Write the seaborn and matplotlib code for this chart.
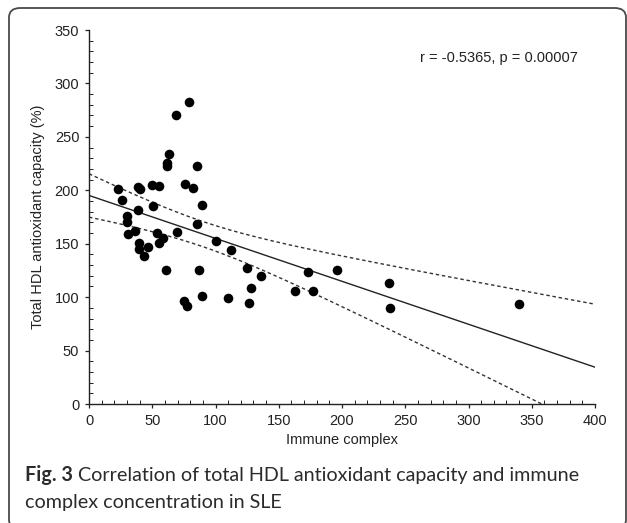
import numpy as np
import pandas as pd
import matplotlib
matplotlib.use("Agg")
import matplotlib.pyplot as plt
import seaborn as sns
from matplotlib.patches import FancyBboxPatch
from matplotlib.ticker import MultipleLocator

# ---- data ----
immune_complex = [22.7, 26.1, 30.3, 30.0, 30.6, 36.4, 38.5, 40.6, 38.7, 39.8,
                  39.5, 43.5, 46.9, 50.0, 55.0, 50.3, 53.5, 55.3, 58.3, 60.9,
                  61.4, 61.6, 63.5, 68.5, 79.0, 75.9, 82.5, 85.1, 89.3, 85.6,
                  69.6, 100.4, 112.0, 124.6, 87.0, 75.4, 77.7, 89.3, 110.2, 128.0,
                  126.2, 136.0, 163.1, 173.1, 177.1, 196.3, 237.4, 238.2, 340.2]
hdl_capacity = [201.6, 190.7, 176.0, 170.0, 159.0, 162.0, 203.0, 201.0, 182.0, 150.4,
                144.8, 138.6, 147.0, 204.8, 204.0, 185.7, 160.0, 150.7, 155.0, 125.5,
                222.9, 226.0, 233.8, 270.0, 282.5, 205.7, 202.5, 222.5, 186.3, 168.3,
                161.0, 152.9, 144.2, 127.0, 125.5, 96.1, 91.8, 101.4, 99.0, 108.6,
                94.3, 119.9, 105.5, 123.9, 105.5, 125.5, 113.6, 89.6, 93.6]
annotation = "r = -0.5365, p = 0.00007"
x_label = "Immune complex"
y_label = "Total HDL antioxidant capacity (%)"
caption_bold = "Fig. 3"
caption_rest = " Correlation of total HDL antioxidant capacity and immune"
caption_line2 = "complex concentration in SLE"

df = pd.DataFrame({"x": immune_complex, "y": hdl_capacity})

sns.set_style("white")
plt.rcParams["font.family"] = ["Liberation Sans", "DejaVu Sans"]

fig = plt.figure(figsize=(6.27, 5.23), dpi=100)
W, H = 627, 523

# rounded outer frame (bottom edge runs off the image)
frame = FancyBboxPatch((9 / W, -6 / H), (626 - 9) / W, (515 + 6) / H,
                       boxstyle="round,pad=0,rounding_size=0.018",
                       transform=fig.transFigure, fill=False,
                       edgecolor="#4a4a4a", linewidth=1.3, clip_on=False)
fig.patches.append(frame)

ax = fig.add_axes([89 / W, 1 - 404 / H, (595 - 89) / W, (404 - 30) / H])

# regression + 95% CI of mean (analytic)
x = df["x"].to_numpy()
y = df["y"].to_numpy()
n = len(x)
slope, intercept = np.polyfit(x, y, 1)
resid = y - (intercept + slope * x)
s = np.sqrt(np.sum(resid ** 2) / (n - 2))
tval = 2.012  # t(0.975, df=47)
xg = np.linspace(0, 400, 200)
yg = intercept + slope * xg
se = s * np.sqrt(1 / n + (xg - x.mean()) ** 2 / np.sum((x - x.mean()) ** 2))
fit = pd.DataFrame({"x": xg, "fit": yg, "lo": yg - tval * se, "hi": yg + tval * se})

sns.lineplot(data=fit, x="x", y="fit", ax=ax, color="#222222", linewidth=1.0)
sns.lineplot(data=fit, x="x", y="lo", ax=ax, color="#333333", linewidth=1.0,
             linestyle=(0, (2.5, 2.0)))
sns.lineplot(data=fit, x="x", y="hi", ax=ax, color="#333333", linewidth=1.0,
             linestyle=(0, (2.5, 2.0)))
sns.scatterplot(data=df, x="x", y="y", ax=ax, color="black", s=48,
                edgecolor="black", linewidth=0, zorder=5)

ax.set_xlim(0, 400)
ax.set_ylim(0, 350)
ax.set_xticks(np.arange(0, 401, 50))
ax.set_yticks(np.arange(0, 351, 50))
ax.xaxis.set_minor_locator(MultipleLocator(10))
ax.yaxis.set_minor_locator(MultipleLocator(10))
ax.tick_params(which="major", direction="out", length=3, width=0.9,
               labelsize=10.5, colors="#222222", pad=4)
ax.tick_params(which="minor", direction="in", length=3, width=0.7,
               colors="#222222")
ax.tick_params(axis="both", which="both", bottom=True, left=True)
for side in ["top", "right"]:
    ax.spines[side].set_visible(False)
for side in ["left", "bottom"]:
    ax.spines[side].set_color("#222222")
    ax.spines[side].set_linewidth(1.0)

ax.set_xlabel(x_label, fontsize=10.5, color="#222222", labelpad=4)
ax.set_ylabel(y_label, fontsize=10.5, color="#222222", labelpad=7)

ax.text(0.81, 0.925, annotation, transform=ax.transAxes, ha="center",
        va="center", fontsize=10.5, color="#222222")

# caption: fit first line to the reference width (25 px -> 582 px)
cap_font = ["Lato", "DejaVu Sans"]
cap_color = "#2b2b2b"
size = 14.0
fig.canvas.draw()
r = fig.canvas.get_renderer()
tb = fig.text(0, 0, caption_bold, fontsize=size, fontweight="bold", family=cap_font)
tr = fig.text(0, 0, caption_rest, fontsize=size, family=cap_font)
wtot = tb.get_window_extent(r).width + tr.get_window_extent(r).width
tb.remove(); tr.remove()
size = size * (582 - 25) / wtot

y1 = 1 - 481 / H
y2 = 1 - 508 / H
t1 = fig.text(25 / W, y1, caption_bold, fontsize=size, fontweight="bold",
              family=cap_font, color=cap_color, va="baseline", ha="left")
bb = t1.get_window_extent(r)
fig.text(bb.x1 / W, y1, caption_rest, fontsize=size,
         family=cap_font, color=cap_color, va="baseline", ha="left")
fig.text(25 / W, y2, caption_line2, fontsize=size,
         family=cap_font, color=cap_color, va="baseline", ha="left")

fig.savefig("out.png", dpi=100)
